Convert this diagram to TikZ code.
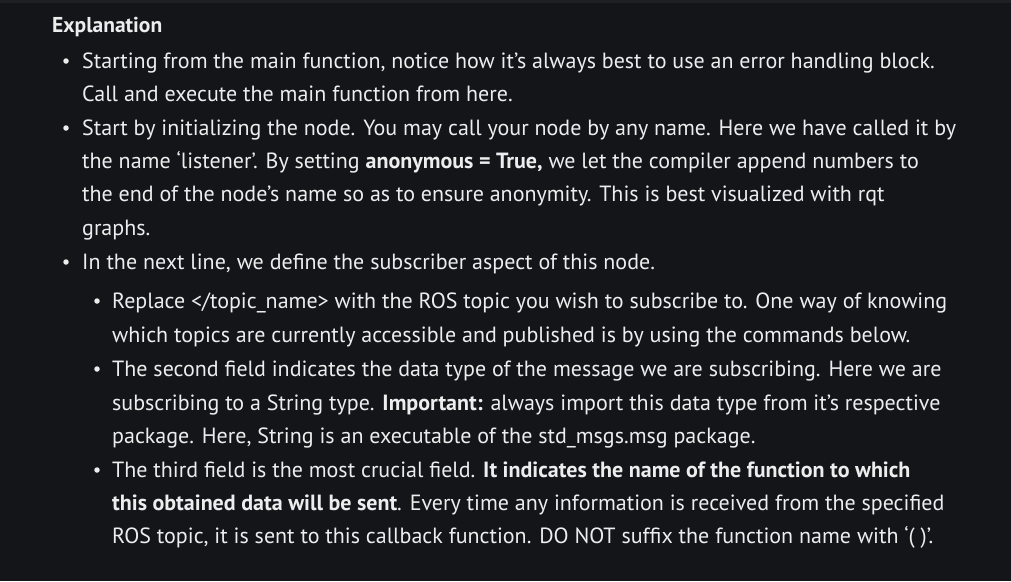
\documentclass[tikz,border=0pt]{standalone}
\usepackage{fontspec}
\setmainfont{PT Sans}
\definecolor{bgc}{HTML}{141519}
\definecolor{topc}{HTML}{1F2023}
\definecolor{txt}{HTML}{EDEDED}
\begin{document}
\begin{tikzpicture}[x=1pt,y=-1pt,
  ln/.style={anchor=base west,inner sep=0pt,text=txt,font=\fontsize{22}{26}\selectfont},
  dot/.style={circle,fill=txt,inner sep=0pt,minimum size=5.5pt}]
\useasboundingbox (0,0) rectangle (1011,581);
\fill[bgc] (0,0) rectangle (1011,581);
\fill[topc] (0,0) rectangle (1011,3);
\node[ln,font=\fontsize{21.5}{25}\selectfont\bfseries] (h) at (52,32) {Explanation};
\node[dot] (b1) at (66,61) {};
\node[ln] (l1) at (82,68) {Starting from the main function, notice how it’s always best to use an error handling block.};
\node[ln] (l2) at (82,101) {Call and execute the main function from here.};
\node[dot] (b2) at (66,128) {};
\node[ln] (l3) at (82,135) {Start by initializing the node. You may call your node by any name. Here we have called it by};
\node[ln] (l4) at (82,168) {the name ‘listener’. By setting \textbf{anonymous = True,} we let the compiler append numbers to};
\node[ln] (l5) at (82,201) {the end of the node’s name so as to ensure anonymity. This is best visualized with rqt};
\node[ln] (l6) at (82,235) {graphs.};
\node[dot] (b3) at (66,262) {};
\node[ln] (l7) at (82,269) {In the next line, we define the subscriber aspect of this node.};
\node[dot] (s1) at (97,301) {};
\node[ln] (l8) at (112,308) {Replace </topic\_name> with the ROS topic you wish to subscribe to. One way of knowing};
\node[ln] (l9) at (112,342) {which topics are currently accessible and published is by using the commands below.};
\node[dot] (s2) at (97,369) {};
\node[ln] (l10) at (112,376) {The second field indicates the data type of the message we are subscribing. Here we are};
\node[ln] (l11) at (112,410) {subscribing to a String type. \textbf{Important:} always import this data type from it’s respective};
\node[ln] (l12) at (112,443) {package. Here, String is an executable of the std\_msgs.msg package.};
\node[dot] (s3) at (97,470) {};
\node[ln] (l13) at (112,477) {The third field is the most crucial field. \textbf{It indicates the name of the function to which}};
\node[ln] (l14) at (112,510) {\textbf{this obtained data will be sent}. Every time any information is received from the specified};
\node[ln] (l15) at (112,543) {ROS topic, it is sent to this callback function. DO NOT suffix the function name with ‘(~)’.};
\end{tikzpicture}
\end{document}
